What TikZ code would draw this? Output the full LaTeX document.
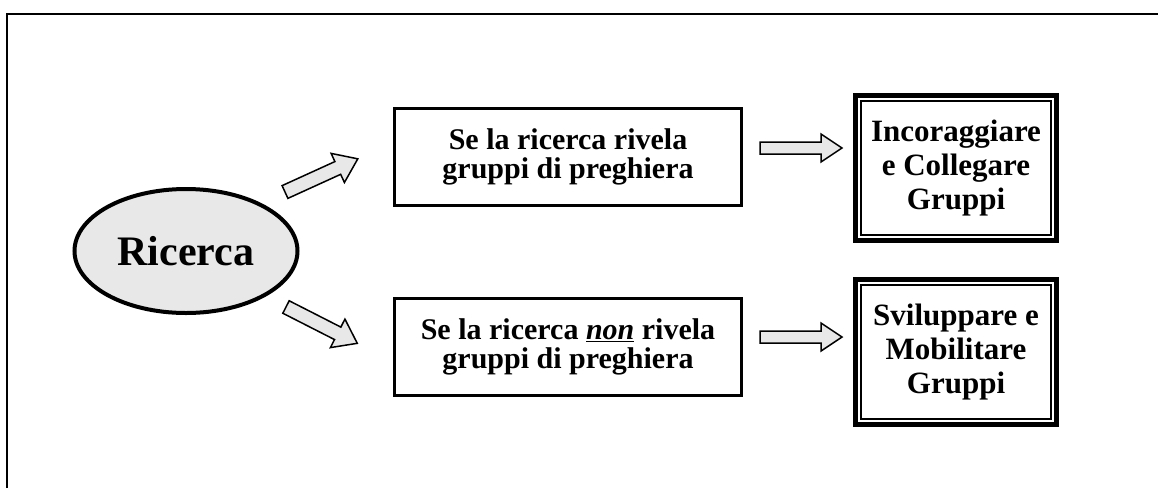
\documentclass[tikz,border=0pt]{standalone}
\usepackage{fontspec}
\setmainfont{Liberation Serif}
\usetikzlibrary{shapes.geometric}
\definecolor{lgray}{HTML}{E8E8E8}
\newcommand\blockarrowpath[6]{% #1 tail coordinate, #2 angle, #3 length, #4 half shaft, #5 head length, #6 head extra
  \draw[barrowstyle, shift={(#1)}, rotate=#2]
    (0,-#4) -- ({#3-#5},-#4) -- ({#3-#5},{-#4-#6}) -- (#3,0) -- ({#3-#5},{#4+#6}) -- ({#3-#5},#4) -- (0,#4) -- cycle;}
\begin{document}
\begin{tikzpicture}[x=1pt,y=-1pt,
  barrowstyle/.style={draw=black, line width=1.5pt, fill=lgray, line join=miter},
  ellnode/.style={ellipse, draw=black, line width=4pt, fill=lgray, minimum width=223pt, minimum height=124pt, inner sep=0pt, font=\bfseries\fontsize{42}{46}\selectfont},
  qbox/.style={rectangle, draw=black, line width=2.5pt, minimum width=347pt, minimum height=97pt, align=center, font=\bfseries\fontsize{30}{29}\selectfont},
  rbox/.style={rectangle, draw=black, line width=5pt, minimum width=201pt, minimum height=145pt, align=center, font=\bfseries\fontsize{31}{34}\selectfont},
  innerline/.style={draw=black, line width=1.3pt}
]
\useasboundingbox (0,0) rectangle (1158,488);
\coordinate (fA) at (7,488);
\coordinate (fB) at (7,14);
\coordinate (fC) at (1158,14);
\draw[line width=1.5pt] (fA) -- (fB) -- (fC);

\node[ellnode] (ric) at (186,251) {Ricerca};
\node[qbox] (q1) at (568,157) {Se la ricerca rivela\\gruppi di preghiera};
\node[qbox] (q2) at (568,347) {Se la ricerca \underline{\textit{non}} rivela\\gruppi di preghiera};
\node[rbox] (r1) at (956,168) {Incoraggiare\\e Collegare\\Gruppi};
\node[rbox] (r2) at (956,352) {Sviluppare e\\Mobilitare\\Gruppi};
\draw[innerline] ([shift={(8,8)}]r1.north west) rectangle ([shift={(-8,-8)}]r1.south east);
\draw[innerline] ([shift={(8,8)}]r2.north west) rectangle ([shift={(-8,-8)}]r2.south east);

\coordinate (a1) at (285,192);
\coordinate (a2) at (286,307);
\coordinate (a3) at (760,148);
\coordinate (a4) at (760,337);
\blockarrowpath{a1}{24.5}{80}{7}{22}{9}
\blockarrowpath{a2}{-27}{80}{7}{22}{9}
\blockarrowpath{a3}{0}{82}{6}{21}{8}
\blockarrowpath{a4}{0}{82}{6}{21}{8}
\end{tikzpicture}
\end{document}
